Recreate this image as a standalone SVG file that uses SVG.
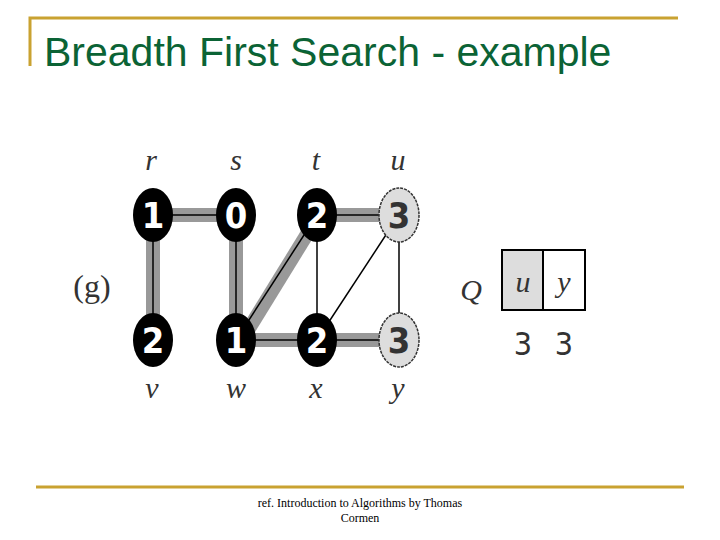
<svg xmlns="http://www.w3.org/2000/svg" width="720" height="540" viewBox="0 0 720 540">
<style>
.tree{stroke:#999;stroke-width:14}
.e{stroke:#000;stroke-width:1.5}
.blk{fill:#000}
.gry{fill:#ddd;stroke:#333;stroke-width:1.5;stroke-dasharray:3 1}
.num{font-family:"DejaVu Sans Condensed","Liberation Sans",sans-serif;font-size:36px;font-weight:bold;text-anchor:middle}
.lbl{font-family:"Liberation Serif",serif;font-style:italic;font-size:30px;text-anchor:middle;fill:#333}
</style>
<rect width="720" height="540" fill="#fff"/>
<path d="M30 66V18H678" fill="none" stroke="#c9a231" stroke-width="3"/>
<line x1="36" y1="487" x2="684" y2="487" stroke="#c9a231" stroke-width="3"/>
<text x="44" y="66" font-family="Liberation Sans,sans-serif" font-size="41" fill="#0b6335">Breadth First Search - example</text>
<g id="edges">
<line class="tree" x1="153" y1="215" x2="236" y2="215"/>
<line class="tree" x1="153" y1="215" x2="153" y2="340"/>
<line class="tree" x1="236" y1="215" x2="236" y2="340"/>
<line class="tree" x1="242" y1="340" x2="317" y2="218"/>
<line class="tree" x1="236" y1="340" x2="399" y2="340"/>
<line class="tree" x1="317" y1="215" x2="399" y2="215"/>
<line class="e" x1="153" y1="215" x2="236" y2="215"/>
<line class="e" x1="153" y1="215" x2="153" y2="340"/>
<line class="e" x1="236" y1="215" x2="236" y2="340"/>
<line class="e" x1="236" y1="340" x2="317" y2="215"/>
<line class="e" x1="236" y1="340" x2="399" y2="340"/>
<line class="e" x1="317" y1="215" x2="399" y2="215"/>
<line class="e" x1="317" y1="215" x2="317" y2="340"/>
<line class="e" x1="317" y1="340" x2="399" y2="215"/>
<line class="e" x1="399" y1="215" x2="399" y2="340"/>
</g>
<g id="r"><ellipse class="blk" cx="153" cy="215" rx="20" ry="27"/><text class="num" x="153" y="228" fill="#fff">1</text><text class="lbl" x="151" y="170">r</text></g>
<g id="s"><ellipse class="blk" cx="236" cy="215" rx="20" ry="27"/><text class="num" x="236" y="228" fill="#fff">0</text><text class="lbl" x="236" y="170">s</text></g>
<g id="t"><ellipse class="blk" cx="317" cy="215" rx="20" ry="27"/><text class="num" x="317" y="228" fill="#fff">2</text><text class="lbl" x="316" y="170">t</text></g>
<g id="u"><ellipse class="gry" cx="399" cy="215" rx="20" ry="27"/><text class="num" x="399" y="228" fill="#333">3</text><text class="lbl" x="398" y="170">u</text></g>
<g id="v"><ellipse class="blk" cx="153" cy="340" rx="20" ry="27"/><text class="num" x="153" y="353" fill="#fff">2</text><text class="lbl" x="152" y="398">v</text></g>
<g id="w"><ellipse class="blk" cx="236" cy="340" rx="20" ry="27"/><text class="num" x="236" y="353" fill="#fff">1</text><text class="lbl" x="236" y="398">w</text></g>
<g id="x"><ellipse class="blk" cx="317" cy="340" rx="20" ry="27"/><text class="num" x="317" y="353" fill="#fff">2</text><text class="lbl" x="316" y="398">x</text></g>
<g id="y"><ellipse class="gry" cx="399" cy="340" rx="20" ry="27"/><text class="num" x="399" y="353" fill="#333">3</text><text class="lbl" x="398" y="398">y</text></g>
<text x="92" y="297" font-family="Liberation Serif,serif" font-size="32" text-anchor="middle" fill="#333">(g)</text>
<g id="queue">
<text class="lbl" x="471" y="300" font-size="36">Q</text>
<rect x="502" y="250" width="83" height="60" fill="#fff" stroke="#000" stroke-width="2"/>
<rect x="503" y="251" width="40" height="58" fill="#ddd"/>
<line x1="543" y1="250" x2="543" y2="310" stroke="#000" stroke-width="2"/>
<text class="lbl" x="523" y="292">u</text>
<text class="lbl" x="564" y="292">y</text>
<text x="523" y="355" font-family="DejaVu Sans Condensed,Liberation Sans,sans-serif" font-size="32" text-anchor="middle" fill="#333">3</text>
<text x="564" y="355" font-family="DejaVu Sans Condensed,Liberation Sans,sans-serif" font-size="32" text-anchor="middle" fill="#333">3</text>
</g>
<text x="360" y="507" font-family="Liberation Serif,serif" font-size="12" text-anchor="middle" fill="#000">ref. Introduction to Algorithms by Thomas</text>
<text x="360" y="522" font-family="Liberation Serif,serif" font-size="12" text-anchor="middle" fill="#000">Cormen</text>
</svg>
